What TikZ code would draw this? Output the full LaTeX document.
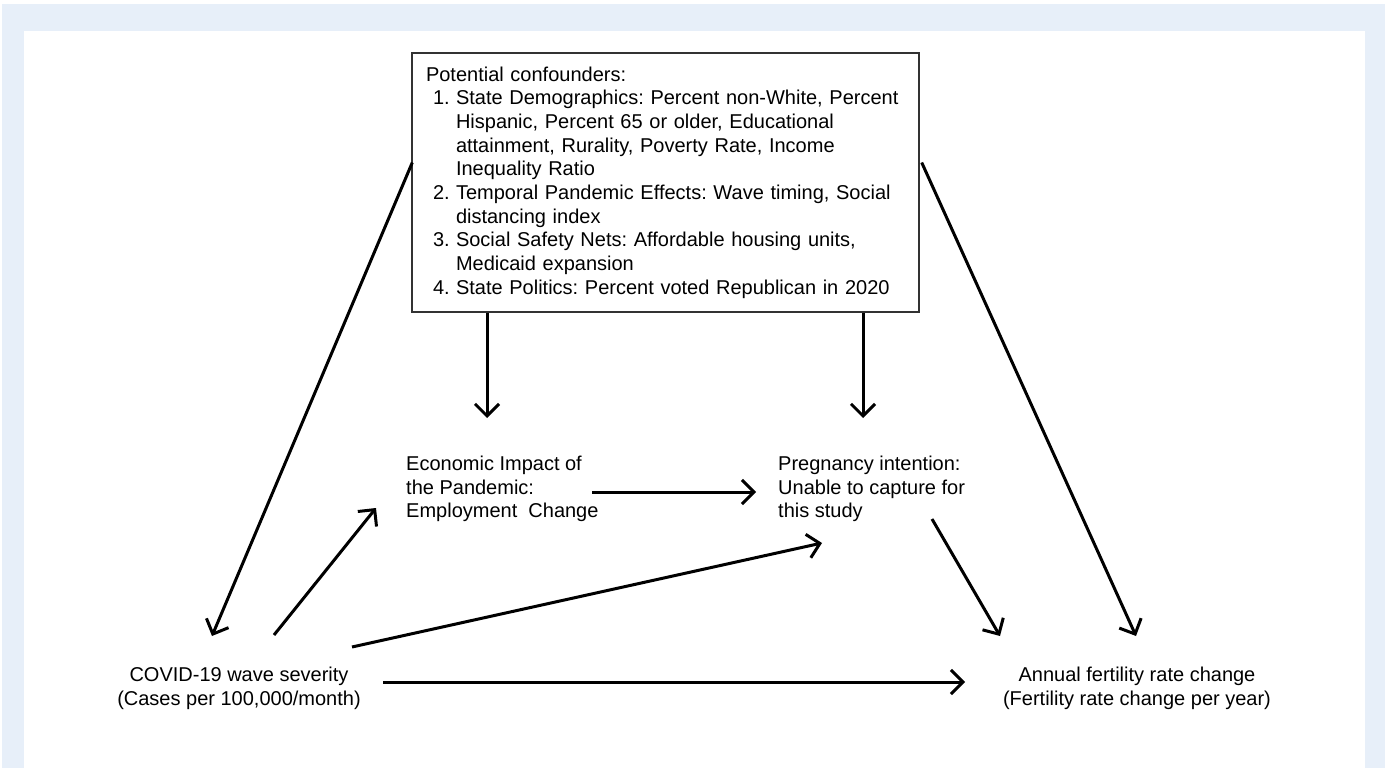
\documentclass[tikz,border=0pt]{standalone}
\usepackage{fontspec}
\setmainfont{Liberation Sans}
\usetikzlibrary{arrows.meta,calc}
\definecolor{bgblue}{RGB}{231,239,249}
\definecolor{boxline}{RGB}{50,50,50}
\tikzset{
  arr/.style={line width=3pt,-{Straight Barb[length=12pt,width=24pt]}},
  txt/.style={font=\fontsize{20}{23.7}\selectfont,inner sep=0pt},
  confbox/.style={draw=boxline,line width=1.4pt,fill=white,minimum width=507pt,minimum height=259pt,inner xsep=14pt,align=left,font=\fontsize{20}{23.7}\selectfont}
}
\newcommand{\itm}[1]{\makebox[30pt][l]{\hspace*{7pt}#1}}
\newcommand{\cnt}{\hspace*{30pt}}
\frenchspacing
\begin{document}
\begin{tikzpicture}[x=1pt,y=-1pt]
\useasboundingbox (0,0) rectangle (1385,768);
\fill[white] (0,0) rectangle (1385,768);
\fill[bgblue] (2,4) rectangle (1385,768);
\fill[white] (24,31) rectangle (1365,768);

\node[confbox,text width=479pt] (conf) at (665.5,182.5) {Potential confounders:\\
\itm{1.}State Demographics: Percent non-White, Percent\\
\cnt Hispanic, Percent 65 or older, Educational\\
\cnt attainment, Rurality, Poverty Rate, Income\\
\cnt Inequality Ratio\\
\itm{2.}Temporal Pandemic Effects: Wave timing, Social\\
\cnt distancing index\\
\itm{3.}Social Safety Nets: Affordable housing units,\\
\cnt Medicaid expansion\\
\itm{4.}State Politics: Percent voted Republican in 2020};

\node[txt,align=center] (covid) at (239,688) {COVID-19 wave severity\\(Cases per 100,000/month)};
\node[txt,align=center] (fert) at (1137,688) {Annual fertility rate change\\(Fertility rate change per year)};
\node[txt,align=left,anchor=west] (econ) at (406,489) {Economic Impact of\\the Pandemic:\\Employment\ \ Change};
\node[txt,align=left,anchor=west] (preg) at (778,489) {Pregnancy intention:\\Unable to capture for\\this study};

\draw[arr] ($(conf.west)+(1,-20)$) -- ($(covid)+(-27,-52)$);
\draw[arr] ($(conf.south)+(-178.5,0)$) -- ($(econ.west)+(81,-71)$);
\draw[arr] ($(conf.south)+(197.5,0)$) -- ($(preg.west)+(85,-71)$);
\draw[arr] ($(conf.east)+(2,-20)$) -- ($(fert)+(-1,-52)$);
\draw[arr] ($(covid)+(35,-53)$) -- ($(econ.west)+(-30,19)$);
\draw[arr] ($(econ.west)+(186,3)$) -- ($(preg.west)+(-22,3)$);
\draw[arr] ($(covid)+(113,-41)$) -- ($(preg.west)+(44,54)$);
\draw[arr] ($(preg.west)+(154,30)$) -- ($(fert)+(-137,-52)$);
\draw[arr] ($(covid)+(144,-6)$) -- ($(fert)+(-172,-6)$);
\end{tikzpicture}
\end{document}
